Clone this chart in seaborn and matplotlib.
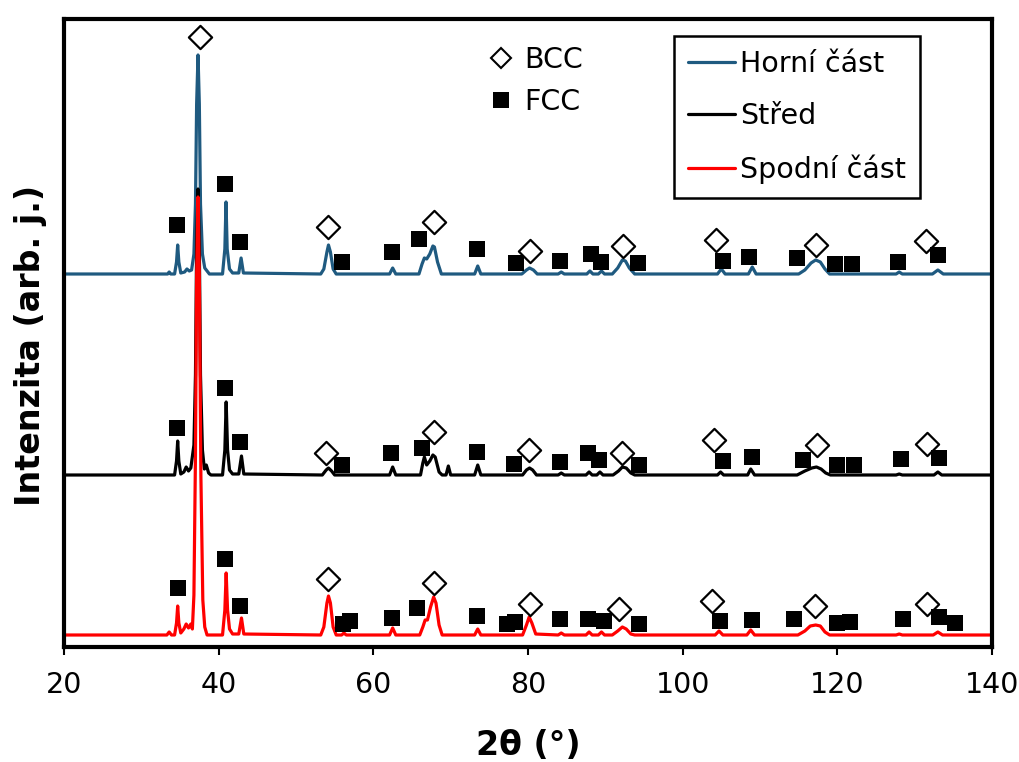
import matplotlib
matplotlib.use("Agg")
import matplotlib.pyplot as plt
from matplotlib.lines import Line2D
import seaborn as sns
import pandas as pd

# ---------------- data ----------------
series_names = ["Horní část", "Střed", "Spodní část"]
series_colors = ["#1f5a80", "#000000", "#ff0000"]
baseline_offset = [373, 172, 12]   # vertical stacking of the patterns

horni_x = [20, 33.4, 33.6, 33.8, 34.3, 34.55, 34.7, 34.85, 35.1, 35.6, 35.9, 36.2, 36.5,
           36.8, 37.0, 37.15, 37.33, 37.5, 37.65, 37.9, 38.2, 38.5, 38.8,
           40.5, 40.8, 40.95, 41.1, 41.4, 41.8, 42.6, 42.9, 43.2,
           53.2, 53.6, 54.0, 54.2, 54.45, 54.8, 55.2, 62.1, 62.5, 62.9,
           65.9, 66.3, 66.6, 66.9, 67.3, 67.7, 67.9, 68.3, 68.8, 73.1, 73.5, 73.9,
           79.2, 79.8, 80.2, 80.7, 81.2, 83.9, 84.3, 84.7, 87.6, 88.0, 88.4, 89.1, 89.5, 89.9,
           90.9, 91.6, 92.2, 92.6, 93.1, 93.8, 104.5, 105.0, 105.5, 108.5, 109.0, 109.5,
           115.0, 115.8, 116.6, 117.2, 117.8, 118.4, 119.0, 127.6, 128.0, 128.4,
           132.3, 133.0, 133.7, 140]
horni_i = [0, 0, 2, 0, 0, 12, 29, 12, 1, 2, 5, 3, 4,
           20, 70, 170, 219, 170, 70, 20, 6, 3, 0,
           0, 25, 72, 25, 5, 1, 1, 16, 1,
           0, 5, 22, 29, 22, 5, 0, 0, 6, 0,
           0, 10, 16, 15, 20, 28, 27, 12, 0, 0, 8, 0,
           0, 4, 6, 4, 0, 0, 2, 0, 0, 3, 0, 0, 3, 0,
           0, 6, 14, 13, 6, 0, 0, 5, 0, 0, 7, 0,
           0, 4, 11, 14, 12, 5, 0, 0, 2, 0,
           0, 4, 0, 0]

stred_x = [20, 34.3, 34.55, 34.7, 34.85, 35.1, 35.5, 35.8, 36.1, 36.4,
           36.8, 37.0, 37.15, 37.33, 37.5, 37.65, 37.9, 38.15, 38.4, 38.7, 39.0,
           40.5, 40.8, 40.97, 41.15, 41.4, 41.8, 42.6, 42.95, 43.25,
           53.4, 53.9, 54.2, 54.6, 55.0, 62.1, 62.5, 62.9,
           66.1, 66.4, 66.6, 66.9, 67.3, 67.7, 68.0, 68.5, 68.9, 69.4, 69.7, 70.0,
           73.1, 73.5, 73.9, 79.3, 79.8, 80.2, 80.6, 81.1, 83.9, 84.3, 84.7,
           87.5, 87.9, 88.3, 88.9, 89.3, 89.7, 91.0, 91.7, 92.2, 92.7, 93.3, 93.8,
           104.5, 104.9, 105.3, 108.4, 108.8, 109.3,
           114.8, 115.8, 116.7, 117.3, 117.9, 118.5, 119.1, 127.6, 128.0, 128.4,
           132.5, 133.0, 133.5, 140]
stred_i = [0, 0, 14, 34, 14, 1, 3, 8, 4, 7,
           30, 100, 230, 286, 230, 100, 25, 6, 10, 2, 0,
           0, 25, 73, 25, 5, 1, 1, 19, 1,
           0, 5, 7, 4, 0, 0, 8, 0,
           0, 12, 18, 10, 14, 20, 18, 3, 0, 0, 9, 0,
           0, 10, 0, 0, 5, 7, 5, 0, 0, 2, 0,
           0, 3, 0, 0, 3, 0, 0, 4, 8, 7, 2, 0,
           0, 3, 0, 0, 6, 0,
           0, 4, 7, 8, 6, 2, 0, 0, 1, 0,
           0, 3, 0, 0]

spodni_x = [20, 33.3, 33.6, 33.9, 34.3, 34.55, 34.7, 34.85, 35.1, 35.5, 35.8, 36.1, 36.4, 36.6,
            36.8, 37.0, 37.15, 37.33, 37.5, 37.7, 37.95, 38.2, 38.5,
            40.5, 40.8, 40.97, 41.15, 41.4, 41.8, 42.6, 42.95, 43.25,
            53.2, 53.6, 54.0, 54.2, 54.45, 54.8, 55.2, 55.9, 56.2, 56.5, 62.1, 62.5, 62.9,
            66.0, 66.4, 66.7, 67.0, 67.4, 67.8, 68.1, 68.5, 68.9, 73.1, 73.5, 73.9,
            79.3, 79.8, 80.15, 80.5, 81.0, 83.9, 84.3, 84.7,
            87.5, 87.9, 88.3, 89.1, 89.5, 89.9, 90.9, 91.6, 92.2, 92.7, 93.3, 93.8,
            104.2, 104.7, 105.2, 108.3, 108.8, 109.3,
            114.9, 115.8, 116.5, 117.2, 117.8, 118.4, 119.0, 127.6, 128.0, 128.4,
            132.4, 133.0, 133.6, 140]
spodni_i = [0, 0, 3, 0, 0, 12, 29, 12, 2, 6, 11, 7, 11, 6,
            40, 180, 360, 438, 360, 160, 35, 8, 0,
            0, 25, 62, 25, 6, 1, 1, 17, 1,
            0, 8, 32, 39, 32, 8, 0, 0, 2, 0, 0, 7, 0,
            0, 8, 15, 15, 28, 38, 32, 10, 0, 0, 6, 0,
            0, 10, 18, 12, 1, 0, 2, 0,
            0, 3, 0, 0, 3, 0, 0, 4, 8, 6, 1, 0,
            0, 4, 0, 0, 5, 0,
            0, 4, 9, 10, 9, 3, 0, 0, 1, 0,
            0, 3, 0, 0]

# phase markers (2θ, plotted height)
bcc_x = [37.6, 54.1, 67.85, 80.2, 92.3, 104.3, 117.3, 131.5,
         53.9, 67.85, 80.1, 92.1, 104.0, 117.4, 131.6,
         54.2, 67.85, 80.2, 91.8, 103.8, 117.1, 131.6]
bcc_y = [610, 420, 425, 396, 401, 407, 402, 406,
         194, 215, 197, 194, 207, 202, 203,
         68, 64, 43, 38, 46, 41, 43]

fcc_x = [34.57, 40.8, 42.76, 55.95, 62.4, 65.87, 73.4, 78.4, 84.2, 88.1, 89.4, 94.2,
         105.2, 108.6, 114.8, 119.7, 121.9, 127.9, 133.0,
         34.57, 40.82, 42.76, 56.0, 62.25, 66.25, 73.45, 78.2, 84.2, 87.8, 89.2, 94.3,
         105.2, 109.0, 115.5, 119.9, 122.1, 128.2, 133.2,
         34.8, 40.82, 42.76, 56.1, 57.0, 62.4, 65.7, 73.45, 77.25, 78.3, 84.1, 87.8, 89.8,
         94.3, 104.8, 109.0, 114.4, 119.9, 121.6, 128.5, 133.1, 135.2]
fcc_y = [422, 463, 405, 385, 395, 408, 398, 384, 386, 393, 385, 384,
         386, 390, 389, 383, 383, 385, 392,
         219, 259, 205, 182, 194, 199, 195, 183, 185, 194, 187, 182,
         186, 190, 187, 182, 182, 188, 189,
         59, 88, 41, 23, 26, 29, 39, 31, 23, 25, 28, 28, 26,
         23, 26, 27, 28, 24, 25, 28, 30, 24]

x_ticks = [20, 40, 60, 80, 100, 120, 140]

# ---------------- build table ----------------
frames = []
for name, xs, ys, off in zip(series_names, [horni_x, stred_x, spodni_x],
                             [horni_i, stred_i, spodni_i], baseline_offset):
    frames.append(pd.DataFrame({"2θ": xs, "I": [v + off for v in ys], "vzorek": name}))
df = pd.concat(frames, ignore_index=True)

# ---------------- plot ----------------
sns.set_style("white")
plt.rcParams["font.family"] = ["DejaVu Sans"]
plt.rcParams["text.color"] = "black"
plt.rcParams["axes.labelcolor"] = "black"
plt.rcParams["xtick.color"] = "black"
plt.rcParams["ytick.color"] = "black"

fig = plt.figure(figsize=(10.19, 7.62), dpi=100)
ax = fig.add_axes([64 / 1019, (762 - 647) / 762, 928 / 1019, 628 / 762])

sns.lineplot(data=df, x="2θ", y="I", hue="vzorek", hue_order=series_names,
             palette=series_colors, estimator=None, sort=False, linewidth=2.3,
             ax=ax, legend=False)

sns.scatterplot(x=bcc_x, y=bcc_y, marker="D", s=140, color="white",
                edgecolor="black", linewidth=1.6, ax=ax, zorder=5, legend=False)
sns.scatterplot(x=fcc_x, y=fcc_y, marker="s", s=125, color="black",
                edgecolor="black", linewidth=0, ax=ax, zorder=5, legend=False)

ax.set_xlim(20, 140)
ax.set_ylim(0, 628)
ax.set_xticks(x_ticks)
ax.set_yticks([])
ax.tick_params(axis="x", direction="out", length=6, width=1.5, pad=11,
               labelsize=20.5, bottom=True, colors="black", labelcolor="black")
for sp in ax.spines.values():
    sp.set_visible(True)
    sp.set_linewidth(3)
    sp.set_color("black")

ax.set_xlabel("2θ (°)", fontsize=24, fontweight="bold", color="black")
ax.set_ylabel("Intenzita (arb. j.)", fontsize=24, fontweight="bold", color="black")
ax.xaxis.set_label_coords(0.5, -0.13)
ax.yaxis.set_label_coords(-0.018, 0.48)

line_handles = [Line2D([], [], color=c, lw=2.3) for c in series_colors]
leg1 = ax.legend(line_handles, series_names, loc="upper right",
                 bbox_to_anchor=(0.9224, 0.973), borderaxespad=0, fontsize=20.5,
                 frameon=True, fancybox=False, framealpha=1, edgecolor="black",
                 borderpad=0.5, handlelength=1.65, handletextpad=0.18,
                 labelspacing=0.85, labelcolor="black")
leg1.get_frame().set_linewidth(1.8)
ax.add_artist(leg1)

mk_handles = [Line2D([], [], marker="D", ls="none", mfc="white", mec="black", mew=1.5, ms=10.5),
              Line2D([], [], marker="s", ls="none", mfc="black", mec="black", mew=0, ms=11)]
ax.legend(mk_handles, ["BCC", "FCC"], loc="center left", bbox_to_anchor=(0.456, 0.901),
          borderaxespad=0, frameon=False, fontsize=20.5, handlelength=1.0,
          handletextpad=0.3, labelspacing=0.48, borderpad=0, labelcolor="black")

fig.savefig("out.png", dpi=100)
